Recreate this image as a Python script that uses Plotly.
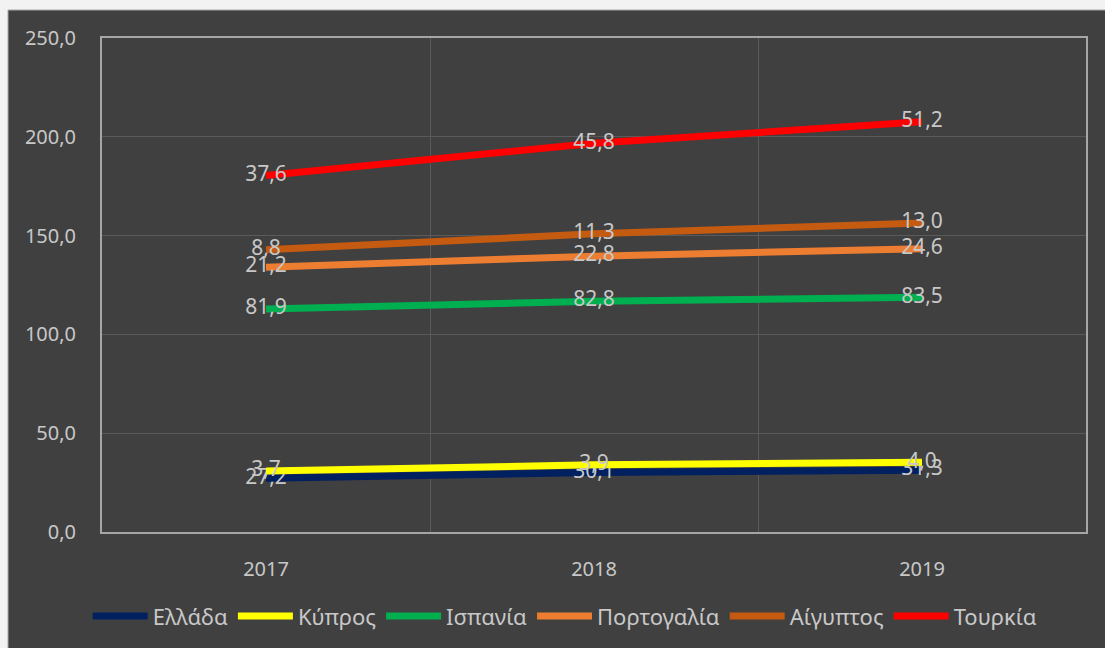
import numpy as np
import plotly.graph_objects as go

years = ["2017", "2018", "2019"]
series_names = ["Ελλάδα", "Κύπρος", "Ισπανία", "Πορτογαλία", "Αίγυπτος", "Τουρκία"]
greece = [27.2, 30.1, 31.3]
cyprus = [3.7, 3.9, 4.0]
spain = [81.9, 82.8, 83.5]
portugal = [21.2, 22.8, 24.6]
egypt = [8.8, 11.3, 13.0]
turkey = [37.6, 45.8, 51.2]
colors = ["#002060", "#FFFF00", "#00B050", "#ED7D31", "#C55A11", "#FF0000"]
y_ticks = [0, 50, 100, 150, 200, 250]

values = [greece, cyprus, spain, portugal, egypt, turkey]
cum = np.cumsum(np.array(values), axis=0)

txt = "#c8c8c8"
font_family = "Noto Sans"

fig = go.Figure()
for name, vals, c, color in zip(series_names, values, cum, colors):
    fig.add_trace(go.Scatter(
        x=years, y=c, name=name, mode="lines+text",
        line=dict(color=color, width=7),
        text=[f"{v:.1f}".replace(".", ",") for v in vals],
        textposition="middle center",
        textfont=dict(color=txt, size=21, family=font_family),
        hoverinfo="skip",
    ))

# figure frame
fig.add_shape(type="rect", xref="paper", yref="paper",
              x0=(8 - 102) / 984, x1=1.1, y0=-0.3, y1=(532 - 10) / 494,
              fillcolor="#404040", line=dict(color="#a6a6a6", width=1), layer="below")

fig.update_layout(
    width=1105, height=648,
    margin=dict(l=102, r=19, t=38, b=116),
    paper_bgcolor="#f2f2f2", plot_bgcolor="#404040",
    separators=",.",
    font=dict(family=font_family, color=txt, size=20),
    showlegend=True,
    legend=dict(orientation="h", xref="container", yref="container",
                x=0.511, xanchor="center", y=0.049, yanchor="middle",
                font=dict(size=22, color=txt), itemwidth=55,
                bgcolor="rgba(0,0,0,0)", traceorder="normal"),
)
fig.update_xaxes(type="category", range=[-0.5, 2.5], tickson="boundaries",
                 showgrid=True, gridcolor="#5a5a5a", gridwidth=1,
                 showline=True, mirror=True, linecolor="#a6a6a6", linewidth=2,
                 ticks="", ticklabelstandoff=18, zeroline=False,
                 tickfont=dict(size=20, color=txt))
fig.update_yaxes(range=[0, 250], tickvals=y_ticks, tickformat=".1f",
                 showgrid=True, gridcolor="#5a5a5a", gridwidth=1,
                 showline=True, mirror=True, linecolor="#a6a6a6", linewidth=2,
                 ticks="", ticklabelstandoff=20, zeroline=False,
                 tickfont=dict(size=20, color=txt))

fig.write_html("out.html")
